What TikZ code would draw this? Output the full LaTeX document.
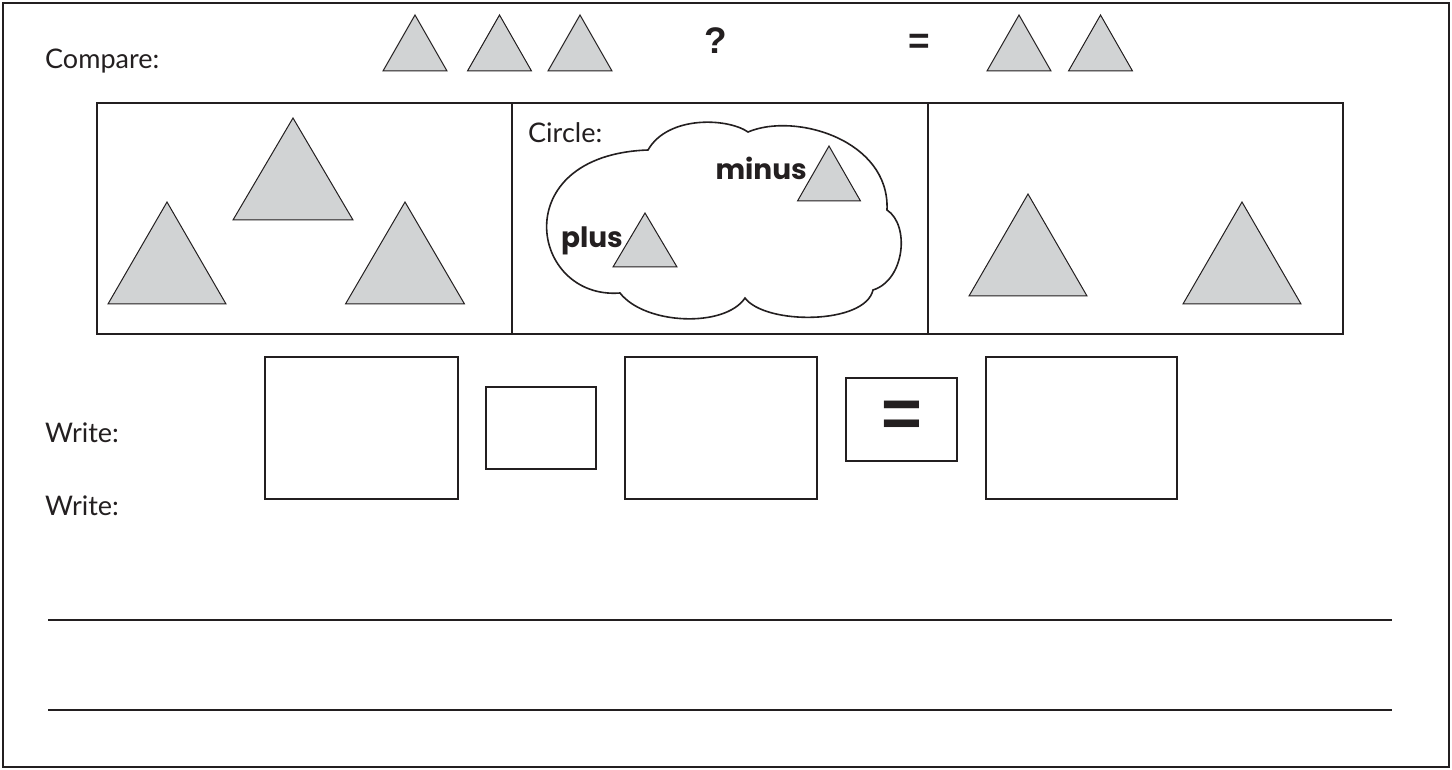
\documentclass[tikz,border=0pt]{standalone}
\usepackage{fontspec}
\setmainfont{Lato}
\newfontfamily\wordfont{Poppins}
\newfontfamily\signfont{Liberation Sans}
\usetikzlibrary{positioning}
\definecolor{trigray}{RGB}{209,211,212}
\definecolor{inkblack}{RGB}{35,31,32}
% one grey triangle: apex x, apex y, base width, height
\newcommand{\drawtri}[4]{\draw[tri] (#1,#2) -- ++(-#3/2,#4) -- ++(#3,0) -- cycle;}

\begin{document}
\begin{tikzpicture}[x=1pt,y=-1pt,inkblack]
% Define styles
\tikzstyle{tri} = [draw=inkblack, line width=1pt, fill=trigray, line join=miter]
\tikzstyle{caption} = [anchor=base west, inner sep=0pt, font=\fontsize{27}{32}\selectfont]
\tikzstyle{word} = [inner sep=0pt, font=\wordfont\bfseries\fontsize{28}{32}\selectfont]
\tikzstyle{sign} = [anchor=base, inner sep=0pt, font=\signfont\bfseries\fontsize{37}{40}\selectfont]
\tikzstyle{answer} = [rectangle, draw=inkblack, line width=1.3pt, inner sep=0pt]
\tikzstyle{rule} = [draw=inkblack, line width=1.8pt]

\useasboundingbox (0,0) rectangle (1452,770);
\draw[line width=2pt] (3,3) rectangle (1449,767);

% Compare row
\node (compare) [caption] at (45,69) {Compare:};
\drawtri{415}{15}{64}{56}
\drawtri{499.5}{15}{64}{56}
\drawtri{580}{15}{64}{56}
\node (ask) [sign] at (716,54) {?};
\node (same) [sign] at (919,54) {=};
\drawtri{1019}{15}{64}{56}
\drawtri{1100.5}{15}{64}{56}

% Picture strip
\draw[line width=1.3pt] (97,103) rectangle (1343,334);
\draw[line width=1.3pt] (512,103) -- (512,334);
\draw[line width=1.3pt] (928,103) -- (928,334);

% left panel
\drawtri{293}{118}{120}{102}
\drawtri{167}{202}{118}{102}
\drawtri{405}{202}{119}{102}

% middle panel
\node (circle) [caption] at (528,143) {Circle:};
\draw[line width=1.6pt, fill=white]
  (620,293) .. controls (530,300) and (505,155) .. (648,150)
  .. controls (668,115) and (728,118) .. (748,132)
  .. controls (795,112) and (890,140) .. (887,210)
  .. controls (910,225) and (905,280) .. (873,290)
  .. controls (865,325) and (765,325) .. (745,298)
  .. controls (725,328) and (645,325) .. cycle;
\drawtri{829}{146}{63}{55}
\drawtri{645}{213}{64}{54}
\node (minus) [word, anchor=base east] at (807,180) {minus};
\node (plus) [word, anchor=base east] at (623,248) {plus};

% right panel
\drawtri{1028}{194}{118}{102}
\drawtri{1242}{202}{118}{102}

% Write row
\node (write) [caption] at (45,442) {Write:};
\node (writeb) [caption, below=73pt of write.base west, anchor=base west] {Write:};
\node (first) [answer, minimum width=193pt, minimum height=142pt] at (361.5,428) {};
\node (op) [answer, minimum width=110pt, minimum height=82pt] at (541,428) {};
\node (second) [answer, minimum width=192pt, minimum height=142pt] at (721,428) {};
\node (eq) [answer, minimum width=111pt, minimum height=83pt, font=\signfont\bfseries\fontsize{70}{70}\selectfont] at (901.5,419.5) {=};
\node (result) [answer, minimum width=191pt, minimum height=142pt] at (1081.5,428) {};

% lines to write on
\draw[rule] (48,620) -- (1392,620);
\draw[rule] (48,710) -- (1392,710);
\end{tikzpicture}
\end{document}
